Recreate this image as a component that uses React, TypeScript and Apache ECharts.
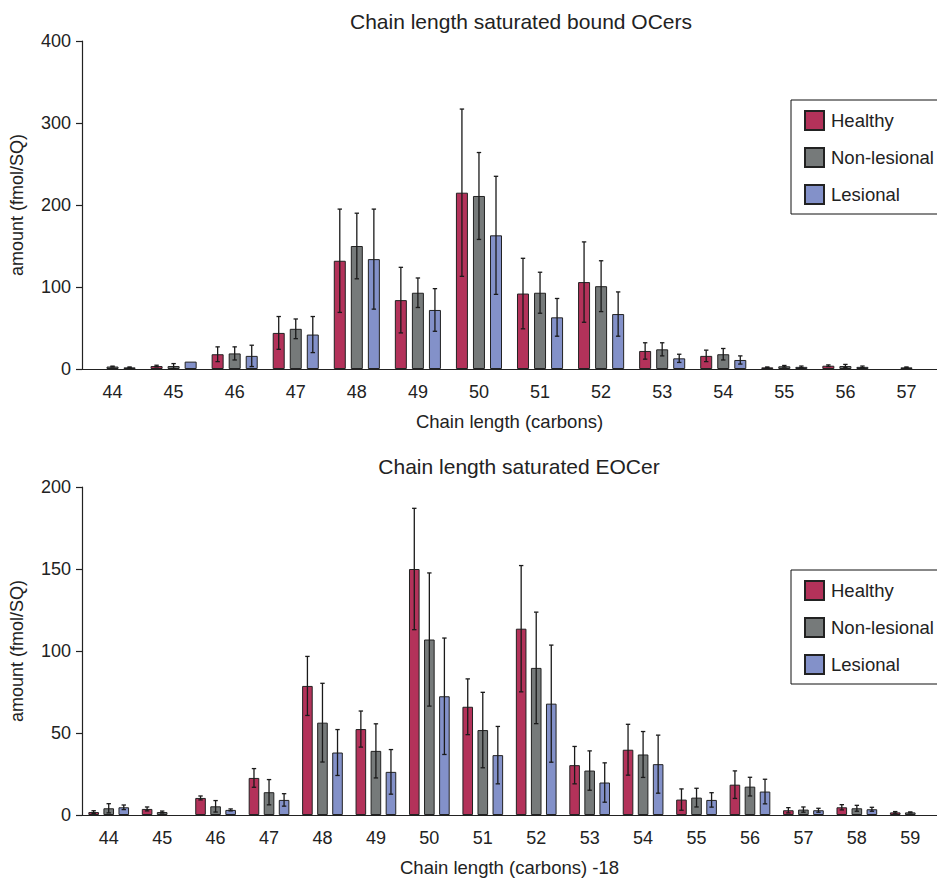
import React, { useEffect, useRef } from "react";
import * as echarts from "echarts";

const seriesNames = ["Healthy", "Non-lesional", "Lesional"];
const colors = ["#B3325A", "#767A7A", "#8391C9"];

// Top chart: bound OCers
const categoriesTop = ["44", "45", "46", "47", "48", "49", "50", "51", "52", "53", "54", "55", "56", "57"];
const healthyTop = [null, 3.6, 18, 44, 132, 84, 215, 92, 106, 22, 16, 2, 4, null];
const healthyTopErr = [null, 1, 9, 20, 63, 40, 102, 43, 49, 10, 7, 0.5, 1, null];
const nonLesTop = [3, 3.6, 19, 49, 150, 93, 211, 93, 101, 24, 18, 3.3, 3.6, 2];
const nonLesTopErr = [0.5, 3, 8, 12, 40, 18, 53, 25, 31, 8, 7, 1, 2, 0.5];
const lesTop = [2, 9, 16, 42, 134, 72, 163, 63, 67, 13, 11, 2.6, 2.6, null];
const lesTopErr = [0.5, 0, 13, 22, 61, 26, 72, 23, 27, 5, 5, 1, 1, null];
const yTicksTop = { min: 0, max: 400, interval: 100 };

// Bottom chart: EOCer
const categoriesBot = ["44", "45", "46", "47", "48", "49", "50", "51", "52", "53", "54", "55", "56", "57", "58", "59"];
const healthyBot = [1.8, 3.7, 10.4, 22.6, 78.7, 52.4, 150, 66, 113.6, 30.4, 39.8, 9.4, 18.5, 2.9, 4.7, 1.6];
const healthyBotErr = [0.8, 1.2, 1.2, 5.7, 18, 11, 37, 17, 38.5, 11.4, 15.5, 6.5, 8.4, 1.6, 1.6, 0.5];
const nonLesBot = [4.1, 1.8, 5.3, 13.9, 56.3, 39.1, 107, 51.8, 89.7, 27.1, 36.9, 10.6, 17.3, 3.3, 4.1, 1.6];
const nonLesBotErr = [2.8, 0.6, 3.5, 7.7, 24, 16.5, 40.6, 23, 34, 12, 14, 5.7, 5.7, 1.6, 1.8, 0.3];
const lesBot = [4.7, null, 3.1, 9.2, 38.1, 26.3, 72.4, 36.5, 67.9, 19.8, 31, 9.2, 14.3, 2.9, 3.5, null];
const lesBotErr = [1.4, null, 0.6, 3.8, 14, 13.6, 35.5, 17.5, 35.7, 12, 17.7, 4.4, 7.5, 1.2, 1.2, null];
const yTicksBot = { min: 0, max: 200, interval: 50 };

const FONT = "Liberation Sans, Arial, Helvetica, sans-serif";
const TXT = "#222";

function errorSeries(
  values: (number | null)[],
  errs: (number | null)[],
  idx: number,
  axisIndex: number,
  barWidth: number,
  gapRatio: number
) {
  const data: number[][] = [];
  values.forEach((v, i) => {
    const e = errs[i];
    if (v != null && e != null && e > 0) data.push([i, v, e]);
  });
  const offset = (idx - 1) * barWidth * (1 + gapRatio);
  return {
    type: "custom",
    xAxisIndex: axisIndex,
    yAxisIndex: axisIndex,
    z: 10,
    silent: true,
    encode: { x: 0, y: 1 },
    data,
    renderItem: (params: any, api: any) => {
      const c = api.value(0);
      const v = api.value(1);
      const e = api.value(2);
      const hi = api.coord([c, v + e]);
      const lo = api.coord([c, Math.max(0, v - e)]);
      const x = hi[0] + offset;
      const cap = 2.2;
      const style = { stroke: "#1a1a1a", lineWidth: 1.3 };
      return {
        type: "group",
        children: [
          { type: "line", shape: { x1: x, y1: hi[1], x2: x, y2: lo[1] }, style },
          { type: "line", shape: { x1: x - cap, y1: hi[1], x2: x + cap, y2: hi[1] }, style },
          { type: "line", shape: { x1: x - cap, y1: lo[1], x2: x + cap, y2: lo[1] }, style },
        ],
      };
    },
  };
}

function barSeries(values: (number | null)[], idx: number, axisIndex: number, barWidth: number, gap: string) {
  return {
    type: "bar",
    name: seriesNames[idx],
    xAxisIndex: axisIndex,
    yAxisIndex: axisIndex,
    barWidth,
    barGap: gap,
    data: values,
    itemStyle: { color: colors[idx], borderColor: "#222", borderWidth: 1 },
  };
}

function xAxis(cats: string[], gridIndex: number, name: string) {
  return {
    type: "category",
    gridIndex,
    data: cats,
    name,
    nameLocation: "middle",
    nameGap: 43,
    nameTextStyle: { fontFamily: FONT, fontSize: 18.5, color: TXT },
    axisLine: { lineStyle: { color: "#222", width: 1.2 } },
    axisTick: { alignWithLabel: true, length: 6, lineStyle: { color: "#222", width: 1.2 } },
    axisLabel: { fontFamily: FONT, fontSize: 18, color: TXT, margin: 14 },
  };
}

function yAxis(t: { min: number; max: number; interval: number }, gridIndex: number) {
  return {
    type: "value",
    gridIndex,
    min: t.min,
    max: t.max,
    interval: t.interval,
    name: "amount (fmol/SQ)",
    nameLocation: "middle",
    nameGap: 56,
    nameRotate: 90,
    nameTextStyle: { fontFamily: FONT, fontSize: 18, color: TXT },
    splitLine: { show: false },
    axisLine: { show: true, lineStyle: { color: "#222", width: 1.2 } },
    axisTick: { show: true, length: 6, lineStyle: { color: "#222", width: 1.2 } },
    axisLabel: { fontFamily: FONT, fontSize: 18, color: TXT, margin: 11 },
  };
}

function legend(top: number) {
  return {
    orient: "vertical",
    left: 791,
    top,
    padding: [10, 40, 9, 13],
    borderColor: "#111",
    borderWidth: 1,
    itemWidth: 19,
    itemHeight: 19,
    itemGap: 16,
    icon: "rect",
    data: seriesNames,
    textStyle: { fontFamily: FONT, fontSize: 18.5, color: TXT, padding: [0, 0, 0, 2] },
  };
}

export default function App() {
  const ref = useRef<HTMLDivElement>(null);
  useEffect(() => {
    if (!ref.current) return;
    const chart = echarts.init(ref.current, null, { renderer: "svg" });
    const bwT = 12, gT = 0.42;
    const bwB = 10.6, gB = 0.42;
    chart.setOption({
      animation: false,
      backgroundColor: "#fff",
      title: [
        {
          text: "Chain length saturated bound OCers",
          left: 516,
          top: 6,
          textAlign: "center",
          textStyle: { fontFamily: FONT, fontSize: 21, fontWeight: "normal", color: TXT },
        },
        {
          text: "Chain length saturated EOCer",
          left: 514,
          top: 451,
          textAlign: "center",
          textStyle: { fontFamily: FONT, fontSize: 21, fontWeight: "normal", color: TXT },
        },
      ],
      legend: [legend(100), legend(570)],
      grid: [
        { left: 82, top: 41, width: 868, height: 328 },
        { left: 81, top: 487, width: 864, height: 329 },
      ],
      xAxis: [
        xAxis(categoriesTop, 0, "Chain length (carbons)"),
        xAxis(categoriesBot, 1, "Chain length (carbons) -18"),
      ],
      yAxis: [yAxis(yTicksTop, 0), yAxis(yTicksBot, 1)],
      series: [
        barSeries(healthyTop, 0, 0, bwT, gT * 100 + "%"),
        barSeries(nonLesTop, 1, 0, bwT, gT * 100 + "%"),
        barSeries(lesTop, 2, 0, bwT, gT * 100 + "%"),
        errorSeries(healthyTop, healthyTopErr, 0, 0, bwT, gT),
        errorSeries(nonLesTop, nonLesTopErr, 1, 0, bwT, gT),
        errorSeries(lesTop, lesTopErr, 2, 0, bwT, gT),
        barSeries(healthyBot, 0, 1, bwB, gB * 100 + "%"),
        barSeries(nonLesBot, 1, 1, bwB, gB * 100 + "%"),
        barSeries(lesBot, 2, 1, bwB, gB * 100 + "%"),
        errorSeries(healthyBot, healthyBotErr, 0, 1, bwB, gB),
        errorSeries(nonLesBot, nonLesBotErr, 1, 1, bwB, gB),
        errorSeries(lesBot, lesBotErr, 2, 1, bwB, gB),
      ],
    });
    return () => chart.dispose();
  }, []);
  return (
    <div
      ref={ref}
      style={{ position: "fixed", left: 0, top: 0, width: 937, height: 878, background: "#fff" }}
    />
  );
}
